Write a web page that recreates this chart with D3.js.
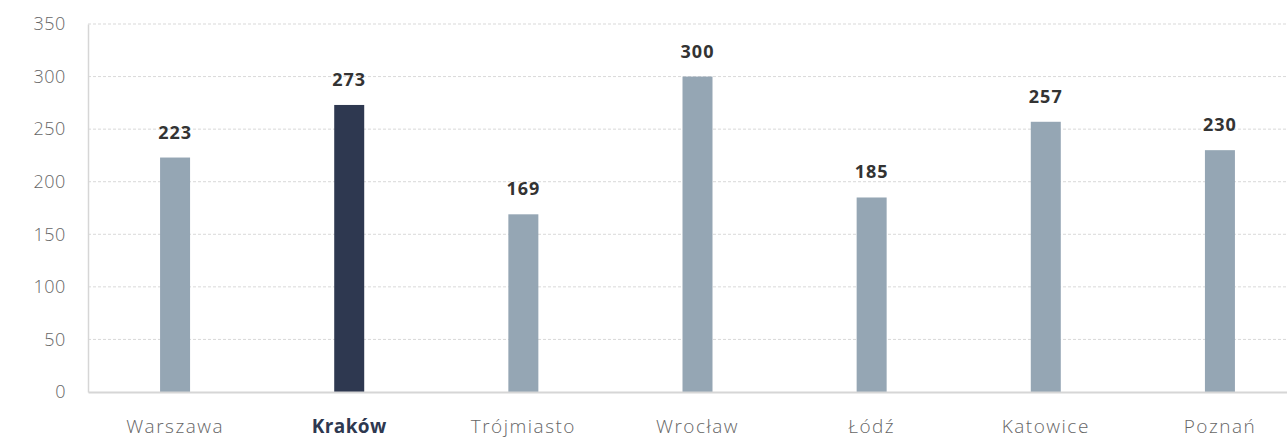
<!DOCTYPE html>
<html><head><meta charset="utf-8">
<script src="https://cdn.jsdelivr.net/npm/d3@7"></script>
<style>body{margin:0;background:#fff;} svg{display:block;font-family:"Open Sans",sans-serif;}</style>
</head><body><svg id="c" width="1287" height="438"></svg>
<script>
const categories = ["Warszawa","Kraków","Trójmiasto","Wrocław","Łódź","Katowice","Poznań"];
const values = [223,273,169,300,185,257,230];
const highlight = ["Kraków"];
const yTicks = [0,50,100,150,200,250,300,350];

const svg = d3.select("#c");
const m = {left:88, top:24, bottom:46};
const W = 1307, H = 438;
const x = d3.scaleBand().domain(categories).range([m.left, W]).paddingInner(0).paddingOuter(0);
const y = d3.scaleLinear().domain([0,350]).range([H-m.bottom, m.top]);
const bw = 30;
const FF = "'Open Sans',sans-serif";

// grid
svg.append("g").selectAll("line").data(yTicks.filter(d=>d>0)).join("line")
  .attr("x1", m.left).attr("x2", 1287).attr("y1", d=>y(d)).attr("y2", d=>y(d))
  .attr("stroke","#d9d9d9").attr("stroke-dasharray","3,2").attr("stroke-width",1);

// y axis
const ya = svg.append("g").attr("transform",`translate(${m.left},0)`)
  .call(d3.axisLeft(y).tickValues(yTicks).tickSize(0).tickPadding(22));
ya.select(".domain").attr("stroke","#d6d6d6").attr("stroke-width",1.5);
ya.selectAll("text").attr("font-size",18).attr("fill","#666").attr("font-family",FF)
  .attr("font-weight",300).attr("letter-spacing",0.6);

// bars
svg.append("g").selectAll("rect").data(categories).join("rect")
  .attr("x", d=>x(d)+x.bandwidth()/2-bw/2).attr("width", bw)
  .attr("y", (d,i)=>y(values[i])).attr("height",(d,i)=>y(0)-y(values[i]))
  .attr("fill", d=>highlight.includes(d)?"#2e3850":"#95a6b4");

// x axis
const xa = svg.append("g").attr("transform",`translate(0,${y(0)})`)
  .call(d3.axisBottom(x).tickSize(0).tickPadding(28));
xa.select(".domain").attr("stroke","#d6d6d6").attr("stroke-width",2);
xa.selectAll("text").attr("font-size",19).attr("font-family",FF)
  .attr("fill", d=>highlight.includes(d)?"#2e3850":"#666")
  .attr("font-weight", d=>highlight.includes(d)?"bold":300)
  .attr("letter-spacing", d=>highlight.includes(d)?0.4:1.5);

// value labels
svg.append("g").selectAll("text").data(categories).join("text")
  .attr("x", d=>x(d)+x.bandwidth()/2).attr("y",(d,i)=>y(values[i])-19)
  .attr("text-anchor","middle").attr("font-size",18).attr("font-weight","bold")
  .attr("font-family",FF).attr("letter-spacing",1)
  .attr("fill","#333").text((d,i)=>values[i]);
</script></body></html>
